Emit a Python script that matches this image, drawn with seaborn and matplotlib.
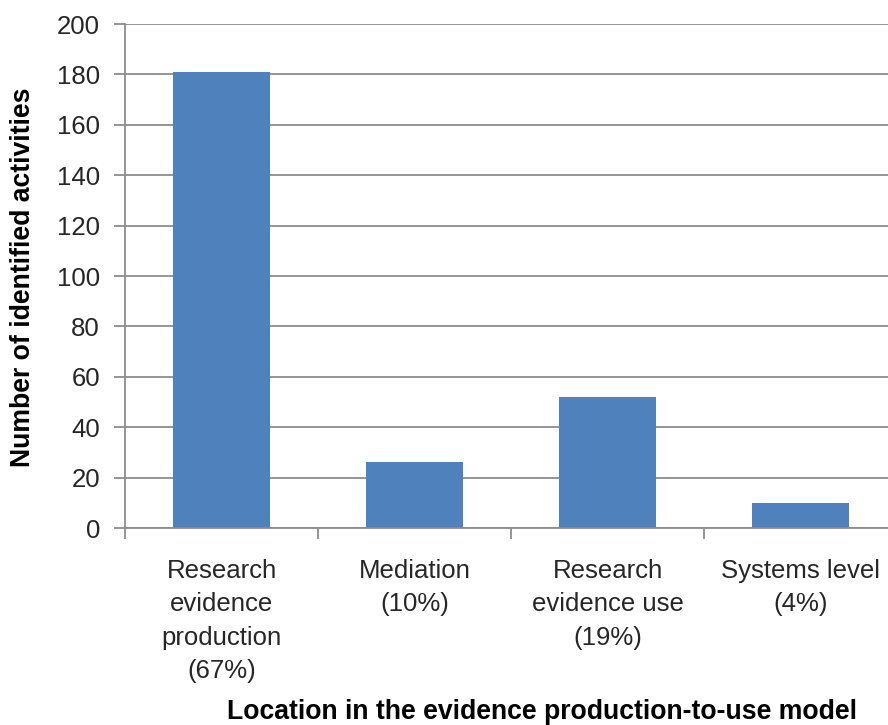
import matplotlib
matplotlib.use("Agg")
import matplotlib.pyplot as plt
import seaborn as sns
import pandas as pd

categories = ["Research\nevidence\nproduction\n(67%)", "Mediation\n(10%)",
              "Research\nevidence use\n(19%)", "Systems level\n(4%)"]
values = [181, 26, 52, 10]
yticks = [0, 20, 40, 60, 80, 100, 120, 140, 160, 180, 200]

sns.set_theme(style="white")
plt.rcParams['font.family'] = ['Liberation Sans', 'DejaVu Sans']

df = pd.DataFrame({"cat": categories, "val": values})

fig = plt.figure(figsize=(8.88, 7.25), dpi=100)
ax = fig.add_axes([125/888, 1-528/725, 772/888, 504/725])
sns.barplot(data=df, x="cat", y="val", color="#4F81BD", width=0.5, ax=ax,
            saturation=1, edgecolor="none")
ax.set_ylim(0, 200)
ax.set_xlim(-0.5, 3.5)
ax.set_yticks(yticks)
ax.yaxis.grid(True, color="#8c8c8c", linewidth=1.3)
ax.set_axisbelow(True)
for s in ["top", "right"]:
    ax.spines[s].set_visible(False)
for s in ["left", "bottom"]:
    ax.spines[s].set_color("#8c8c8c")
    ax.spines[s].set_linewidth(1.3)
ax.set_xticks([-0.5, 0.5, 1.5, 2.5, 3.5], minor=False)
ax.set_xticklabels([])
ax.set_xticks([0, 1, 2, 3], minor=True)
ax.set_xticklabels(categories, minor=True, fontsize=18.5, color="#262626", linespacing=1.5)
ax.tick_params(axis="x", which="major", direction="out", length=8, width=1.3,
               color="#8c8c8c", bottom=True)
ax.tick_params(axis="x", which="minor", length=0, pad=22)
ax.tick_params(axis="y", direction="out", length=8, width=1.3, color="#8c8c8c",
               labelsize=18.5, labelcolor="#262626", left=True, pad=10)
ax.set_xlabel("Location in the evidence production-to-use model", fontsize=19.2,
              fontweight="bold", color="black")
ax.xaxis.set_label_coords(0.54, (528 - 712) / 504)
ax.xaxis.label.set_va("center")
ax.set_ylabel("Number of identified activities", fontsize=19.2, fontweight="bold",
              color="black")
ax.yaxis.set_label_coords((23 - 125) / 772, (528 - 277) / 504)
ax.yaxis.label.set_va("center")

fig.savefig("out.png", dpi=100)
